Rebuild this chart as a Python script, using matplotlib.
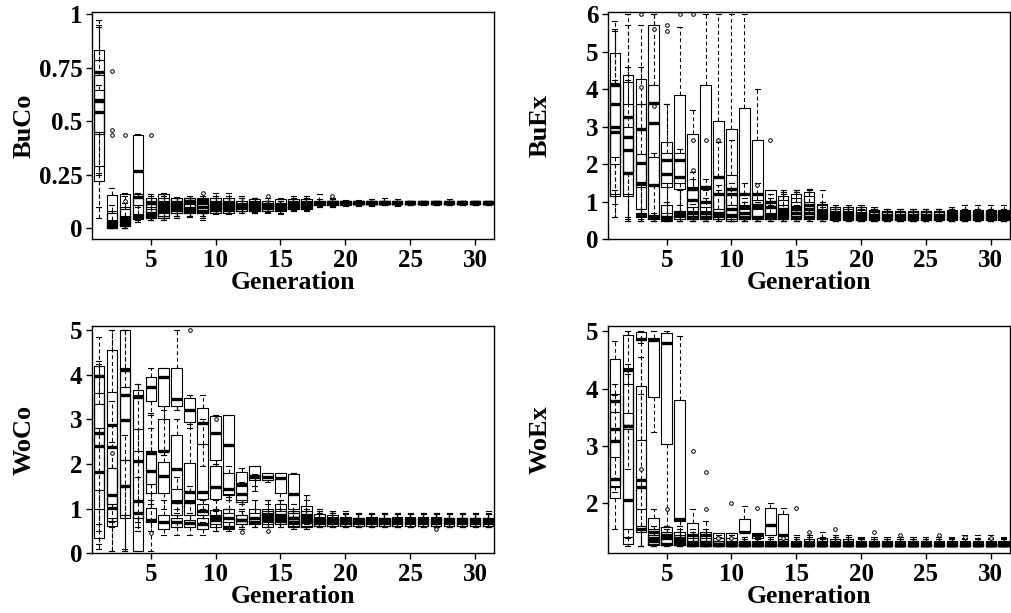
import matplotlib
matplotlib.use("Agg")
import matplotlib.pyplot as plt

generations = list(range(1, 32))

# ---------------- BuCo (4 overlaid runs) ----------------
buco_lo = [
    [0.05,0.00,0.00,0.03,0.04,0.04,0.05,0.055,0.04,0.065,0.065,0.07,0.07,0.075,0.07,0.08,0.085,0.10,0.10,0.105,0.105,0.105,0.11,0.105,0.11,0.11,0.11,0.11,0.11,0.11,0.11],
    [0.26,0.00,0.00,0.04,0.04,0.04,0.06,0.06,0.05,0.07,0.07,0.08,0.075,0.08,0.08,0.085,0.09,0.105,0.105,0.11,0.11,0.11,0.11,0.11,0.11,0.11,0.11,0.11,0.11,0.11,0.11],
    [0.10,0.00,0.00,0.03,0.04,0.05,0.05,0.055,0.05,0.07,0.07,0.07,0.07,0.07,0.065,0.08,0.08,0.10,0.10,0.11,0.11,0.11,0.11,0.11,0.11,0.11,0.11,0.11,0.11,0.11,0.11],
    [0.25,0.00,0.00,0.04,0.05,0.05,0.06,0.06,0.06,0.07,0.07,0.08,0.08,0.08,0.08,0.09,0.09,0.105,0.11,0.11,0.112,0.112,0.112,0.112,0.112,0.112,0.112,0.112,0.112,0.112,0.112],
]
buco_q1 = [
    [0.22,0.00,0.02,0.11,0.05,0.05,0.07,0.07,0.07,0.07,0.07,0.08,0.08,0.09,0.08,0.09,0.09,0.11,0.11,0.11,0.112,0.112,0.112,0.112,0.112,0.112,0.112,0.112,0.112,0.112,0.112],
    [0.29,0.005,0.01,0.05,0.06,0.06,0.08,0.08,0.07,0.08,0.08,0.09,0.09,0.09,0.09,0.10,0.10,0.113,0.113,0.114,0.115,0.115,0.115,0.115,0.115,0.115,0.115,0.115,0.115,0.115,0.115],
    [0.44,0.00,0.02,0.045,0.05,0.06,0.07,0.07,0.07,0.08,0.08,0.08,0.08,0.08,0.08,0.09,0.09,0.11,0.11,0.113,0.113,0.113,0.113,0.113,0.113,0.113,0.113,0.113,0.113,0.113,0.113],
    [0.45,0.01,0.01,0.05,0.10,0.07,0.08,0.08,0.08,0.09,0.09,0.09,0.09,0.09,0.09,0.10,0.10,0.115,0.115,0.116,0.116,0.116,0.116,0.116,0.116,0.116,0.116,0.116,0.116,0.116,0.116],
]
buco_med = [
    [0.73,0.01,0.04,0.27,0.06,0.08,0.10,0.08,0.08,0.10,0.10,0.10,0.10,0.11,0.10,0.11,0.11,0.12,0.12,0.12,0.12,0.12,0.12,0.12,0.12,0.12,0.12,0.12,0.12,0.12,0.12],
    [0.595,0.02,0.03,0.145,0.12,0.12,0.11,0.13,0.12,0.12,0.12,0.11,0.115,0.11,0.11,0.115,0.115,0.12,0.122,0.122,0.121,0.122,0.121,0.121,0.121,0.121,0.121,0.121,0.121,0.121,0.121],
    [0.544,0.01,0.05,0.055,0.07,0.09,0.09,0.09,0.10,0.09,0.09,0.10,0.09,0.10,0.09,0.10,0.10,0.117,0.117,0.118,0.118,0.118,0.118,0.118,0.118,0.118,0.118,0.118,0.118,0.118,0.118],
    [0.60,0.03,0.02,0.06,0.12,0.10,0.12,0.12,0.13,0.11,0.11,0.11,0.10,0.10,0.10,0.11,0.11,0.12,0.12,0.12,0.12,0.12,0.12,0.12,0.12,0.12,0.12,0.12,0.12,0.12,0.12],
]
buco_q3 = [
    [0.83,0.155,0.16,0.435,0.13,0.16,0.14,0.14,0.14,0.14,0.14,0.13,0.135,0.13,0.135,0.135,0.135,0.13,0.13,0.128,0.128,0.13,0.128,0.128,0.127,0.127,0.127,0.127,0.127,0.127,0.127],
    [0.715,0.08,0.10,0.16,0.14,0.14,0.13,0.14,0.13,0.13,0.13,0.12,0.125,0.12,0.12,0.125,0.125,0.127,0.127,0.126,0.125,0.125,0.125,0.125,0.125,0.125,0.125,0.125,0.125,0.125,0.125],
    [0.645,0.04,0.09,0.065,0.09,0.11,0.12,0.10,0.12,0.12,0.12,0.12,0.12,0.12,0.115,0.12,0.12,0.125,0.125,0.124,0.124,0.124,0.124,0.124,0.124,0.124,0.124,0.124,0.124,0.124,0.124],
    [0.785,0.07,0.06,0.14,0.13,0.13,0.13,0.13,0.135,0.13,0.13,0.13,0.13,0.12,0.12,0.13,0.13,0.128,0.128,0.127,0.126,0.126,0.126,0.126,0.126,0.126,0.126,0.126,0.126,0.126,0.126],
]
buco_hi = [
    [0.97,0.19,0.165,0.44,0.16,0.165,0.145,0.15,0.15,0.165,0.165,0.15,0.14,0.14,0.14,0.15,0.15,0.16,0.14,0.132,0.132,0.135,0.14,0.135,0.13,0.13,0.13,0.135,0.13,0.13,0.13],
    [0.95,0.11,0.15,0.165,0.16,0.16,0.14,0.14,0.14,0.15,0.15,0.14,0.14,0.13,0.13,0.14,0.14,0.13,0.13,0.13,0.128,0.128,0.128,0.128,0.128,0.128,0.128,0.128,0.128,0.128,0.128],
    [0.67,0.07,0.12,0.10,0.12,0.14,0.14,0.12,0.15,0.14,0.14,0.14,0.13,0.13,0.13,0.13,0.13,0.135,0.135,0.13,0.13,0.128,0.128,0.128,0.128,0.128,0.128,0.128,0.128,0.128,0.128],
    [0.94,0.08,0.09,0.16,0.15,0.15,0.14,0.14,0.14,0.14,0.14,0.14,0.14,0.13,0.13,0.135,0.135,0.13,0.13,0.13,0.13,0.13,0.13,0.13,0.13,0.13,0.13,0.13,0.13,0.13,0.13],
]
buco_out_gen = [2, 2, 2, 3, 3, 5, 9, 14, 19]
buco_out_val = [0.735, 0.46, 0.435, 0.435, 0.13, 0.435, 0.165, 0.15, 0.15]

# ---------------- BuEx ----------------
buex_lo = [
    [0.6]+[0.5]*30,
    [0.95]+[0.5]*30,
    [1.3,0.6]+[0.5]*29,
    [0.6,0.55,0.55]+[0.5]*28,
]
buex_q1 = [
    [1.15,1.15,0.8,0.55,1.4,1.35,0.85,0.85,0.6,0.5,0.55,0.6,0.6,0.55,0.55,0.55,0.55,0.55,0.55,0.55,0.52,0.52,0.52,0.52,0.52,0.52,0.55,0.55,0.55,0.55,0.55],
    [2.0,1.77,1.4,1.45,0.5,1.5,0.55,0.55,0.55,0.55,0.55,0.55,0.55,0.55,0.6,0.6,0.55,0.55,0.55,0.55,0.55,0.55,0.55,0.55,0.55,0.55,0.55,0.55,0.55,0.55,0.55],
    [2.2,1.8,0.6,0.55,1.5,0.55,0.55,0.6,0.6,0.6,0.6,0.6,0.55,0.55,0.55,0.55,0.55,0.52,0.52,0.52,0.52,0.52,0.52,0.52,0.52,0.52,0.52,0.52,0.52,0.52,0.52],
    [1.2,1.2,1.45,0.6,0.55,0.6,0.55,0.55,0.55,0.55,0.55,0.55,0.55,0.6,0.6,0.6,0.6,0.55,0.55,0.55,0.55,0.55,0.55,0.55,0.55,0.55,0.55,0.55,0.55,0.55,0.55],
]
buex_med = [
    [3.0,2.73,2.93,3.1,1.75,1.65,1.35,1.4,1.65,1.35,1.2,1.2,1.0,0.8,0.85,0.9,0.7,0.7,0.7,0.65,0.65,0.62,0.62,0.62,0.62,0.62,0.65,0.65,0.65,0.65,0.65],
    [3.6,3.25,2.03,3.62,0.55,2.1,1.05,1.0,1.2,1.2,0.85,0.9,0.65,0.65,0.7,0.7,0.65,0.62,0.62,0.6,0.6,0.6,0.6,0.6,0.6,0.6,0.6,0.6,0.6,0.6,0.6],
    [2.85,2.37,0.65,0.6,2.1,0.65,0.6,0.6,0.65,0.8,0.6,0.6,0.6,0.6,0.6,0.6,0.6,0.6,0.6,0.6,0.58,0.58,0.58,0.58,0.58,0.58,0.58,0.58,0.58,0.58,0.58],
    [4.1,1.77,1.5,1.45,0.6,0.7,0.7,0.7,0.7,0.65,0.7,0.85,0.85,0.75,0.8,0.8,0.75,0.65,0.65,0.65,0.65,0.65,0.65,0.65,0.65,0.65,0.68,0.68,0.68,0.68,0.68],
]
buex_q3 = [
    [4.97,4.38,4.26,5.7,2.6,3.85,2.8,4.1,3.15,2.95,3.5,2.65,1.3,1.15,1.2,1.25,0.95,0.85,0.85,0.85,0.78,0.75,0.75,0.75,0.75,0.75,0.78,0.78,0.78,0.78,0.78],
    [4.13,4.2,3.6,4.12,0.9,2.3,1.4,1.35,1.65,1.7,1.2,1.2,0.85,0.9,1.0,1.0,0.8,0.75,0.75,0.72,0.72,0.72,0.72,0.72,0.72,0.72,0.72,0.72,0.72,0.72,0.72],
    [4.1,3.6,0.7,0.65,2.3,0.75,0.75,0.75,0.8,0.9,0.8,0.8,0.7,0.7,0.7,0.7,0.7,0.7,0.7,0.7,0.68,0.68,0.68,0.68,0.68,0.68,0.68,0.68,0.68,0.68,0.68],
    [4.15,3.0,2.27,2.2,0.7,0.75,1.3,1.0,1.2,1.3,0.9,1.05,1.0,1.05,1.1,1.15,0.9,0.8,0.8,0.78,0.75,0.75,0.75,0.75,0.75,0.75,0.75,0.75,0.75,0.75,0.75],
]
buex_hi = [
    [5.8,6.0,5.7,6.0,3.6,5.65,3.45,6.0,6.0,6.0,6.0,4.0,1.3,1.25,1.3,1.35,1.3,0.9,0.9,0.9,0.85,0.8,0.8,0.8,0.8,0.8,0.85,0.9,0.9,0.9,0.9],
    [5.55,5.7,4.6,6.0,1.0,2.4,1.8,1.6,2.6,2.65,1.5,1.5,1.1,1.2,1.25,1.3,1.0,0.85,0.85,0.8,0.8,0.8,0.8,0.8,0.8,0.8,0.8,0.8,0.8,0.8,0.8],
    [4.25,4.6,0.8,0.7,3.6,1.3,0.95,1.1,1.3,1.35,1.0,1.0,0.9,0.9,0.9,0.9,0.85,0.8,0.8,0.8,0.75,0.75,0.75,0.75,0.75,0.75,0.75,0.75,0.75,0.75,0.75],
    [5.6,4.25,3.6,2.3,0.9,0.9,1.6,1.3,1.45,1.5,1.1,1.2,1.2,1.3,1.3,1.35,1.0,0.85,0.85,0.85,0.8,0.8,0.8,0.8,0.8,0.8,0.8,0.8,0.8,0.8,0.8],
]
buex_out_gen = [3, 3, 4, 4, 5, 5, 6, 7, 7, 7, 8, 9, 12, 13]
buex_out_val = [6.0, 4.05, 5.6, 3.55, 5.55, 5.7, 6.0, 6.0, 2.65, 1.85, 2.65, 2.65, 1.45, 2.65]

# ---------------- WoCo ----------------
woco_lo = [
    [0.1,0.05,0.05,0.05,0.05,0.4,0.4,0.4,0.4,0.5,0.5,0.55,0.6,0.6,0.6,0.6,0.6,0.6,0.6,0.6,0.6,0.6,0.6,0.6,0.6,0.6,0.6,0.6,0.6,0.6,0.6],
    [0.2,0.05,0.05,0.5,1.1,1.0,0.6,0.7,0.7,1.0,0.6,1.0,1.5,1.6,1.2,0.9,0.65,0.65,0.65,0.65,0.65,0.65,0.65,0.65,0.65,0.65,0.65,0.65,0.65,0.65,0.65],
    [0.65,0.6,0.8,0.6,3.1,2.3,3.2,2.8,1.95,2.0,1.3,0.6,0.6,0.6,0.65,0.6,0.6,0.6,0.6,0.6,0.6,0.6,0.6,0.6,0.6,0.6,0.6,0.6,0.6,0.6,0.6],
    [0.5,0.7,0.1,0.7,0.5,2.2,0.9,0.9,1.0,0.5,1.2,1.1,1.4,0.6,0.6,0.55,0.55,0.6,0.6,0.6,0.6,0.6,0.6,0.6,0.6,0.6,0.6,0.6,0.6,0.6,0.6],
]
woco_q1 = [
    [0.34,0.62,0.8,0.05,0.7,0.55,0.6,0.6,0.55,0.6,0.55,0.65,0.65,0.6,0.65,0.6,0.6,0.62,0.62,0.62,0.62,0.62,0.62,0.62,0.62,0.62,0.62,0.62,0.62,0.62,0.62],
    [1.42,0.72,2.1,0.8,1.35,1.35,0.85,0.85,0.85,1.22,0.7,1.15,1.7,1.65,1.35,1.0,0.7,0.68,0.68,0.68,0.68,0.68,0.68,0.68,0.68,0.68,0.68,0.68,0.68,0.68,0.68],
    [1.0,0.8,1.52,2.78,3.4,3.3,3.3,2.95,2.45,2.08,1.32,0.65,0.65,0.65,0.7,0.65,0.62,0.65,0.65,0.65,0.65,0.65,0.65,0.65,0.65,0.65,0.65,0.65,0.65,0.65,0.65],
    [2.8,1.1,0.85,0.8,1.55,2.28,1.2,1.2,1.22,0.65,1.3,1.2,1.65,0.7,0.7,0.62,0.6,0.62,0.62,0.62,0.62,0.62,0.62,0.62,0.62,0.62,0.62,0.62,0.62,0.62,0.62],
]
woco_med = [
    [2.41,2.88,2.98,2.07,0.75,0.7,0.7,0.68,0.65,0.82,0.6,0.75,0.7,0.75,0.8,0.78,0.8,0.72,0.72,0.7,0.7,0.7,0.7,0.72,0.72,0.72,0.72,0.72,0.7,0.7,0.72],
    [2.7,2.38,4.1,1.17,1.85,1.72,1.15,1.15,0.95,1.48,0.8,1.55,1.72,1.7,1.68,1.32,0.85,0.75,0.75,0.75,0.74,0.74,0.74,0.74,0.75,0.75,0.75,0.74,0.74,0.74,0.74],
    [1.81,1.02,3.55,3.5,3.72,3.95,3.45,3.22,2.92,2.7,2.42,0.75,0.8,0.85,0.85,0.78,0.75,0.7,0.7,0.7,0.7,0.7,0.7,0.7,0.7,0.7,0.7,0.7,0.7,0.7,0.7],
    [3.97,1.3,1.5,0.9,2.25,2.3,1.88,1.38,1.38,0.75,1.45,1.32,1.7,0.8,0.75,0.7,0.7,0.72,0.72,0.72,0.72,0.72,0.72,0.72,0.72,0.72,0.72,0.72,0.72,0.72,0.72],
]
woco_q3 = [
    [4.19,4.55,5.0,3.65,1.02,0.85,0.8,0.75,0.8,0.98,1.0,0.85,1.0,1.0,1.1,0.95,1.05,0.88,0.85,0.82,0.8,0.82,0.8,0.82,0.82,0.82,0.82,0.8,0.8,0.8,0.8],
    [3.6,3.62,4.15,2.28,2.28,2.05,1.45,1.38,1.1,1.95,0.9,1.82,1.95,1.8,1.8,1.78,0.95,0.82,0.82,0.8,0.8,0.8,0.8,0.8,0.8,0.8,0.8,0.8,0.8,0.8,0.8],
    [3.34,1.9,3.72,3.55,3.95,4.15,4.15,3.48,3.25,3.08,3.1,0.85,0.9,0.95,0.95,0.9,0.8,0.78,0.78,0.78,0.78,0.78,0.78,0.78,0.78,0.78,0.78,0.78,0.78,0.78,0.78],
    [4.0,1.9,2.1,1.17,2.28,3.0,2.65,2.02,2.45,0.85,1.8,1.5,1.75,0.9,1.0,0.8,0.85,0.8,0.8,0.8,0.8,0.8,0.8,0.8,0.8,0.8,0.8,0.8,0.8,0.8,0.8],
]
woco_hi = [
    [4.85,5.0,5.0,3.8,1.2,1.2,1.0,0.9,1.0,1.2,1.25,0.95,1.2,1.2,1.2,1.1,1.3,1.0,0.95,0.95,0.9,0.9,0.9,0.9,0.9,0.9,0.9,0.9,0.9,0.9,0.95],
    [4.25,5.0,5.0,3.5,3.15,2.2,1.7,1.5,1.2,2.0,1.0,1.92,1.95,1.8,1.8,1.8,1.2,0.95,0.9,0.9,0.88,0.88,0.88,0.88,0.88,0.88,0.88,0.88,0.88,0.88,0.88],
    [4.2,3.4,5.0,3.8,4.15,4.15,5.0,3.55,3.55,3.1,3.1,0.95,1.2,1.2,1.1,1.0,0.95,0.9,0.9,0.88,0.88,0.88,0.88,0.88,0.88,0.88,0.88,0.88,0.88,0.88,0.88],
    [4.3,2.5,2.65,1.7,2.8,3.2,3.0,2.9,3.0,0.95,1.95,1.6,1.78,1.1,1.2,0.9,1.0,0.9,0.9,0.9,0.9,0.9,0.9,0.9,0.9,0.9,0.9,0.9,0.9,0.9,0.9],
]
woco_out_gen = [2, 5, 8, 10, 12, 14, 27]
woco_out_val = [2.25, 0.45, 5.0, 3.0, 0.48, 0.5, 0.55]

# ---------------- WoEx ----------------
woex_lo = [
    [1.55,1.25,1.25,3.25,1.6,1.25,1.25,1.25,1.25,1.25,1.5,1.4,1.45,1.3]+[1.25]*17,
    [2.3,1.3]+[1.25]*29,
    [2.4,1.4,4.8]+[1.25]*28,
    [2.2,2.6]+[1.25]*29,
]
woex_q1 = [
    [2.1,1.3,1.55,3.85,3.03,1.7,1.25,1.25,1.25,1.25,1.5,1.4,1.45,1.3]+[1.25]*17,
    [2.28,1.42,1.9,1.3,1.28,1.3,1.27,1.27,1.27,1.27]+[1.25]*21,
    [2.8,1.55,4.85,1.3,1.3,1.28,1.27]+[1.26]*24,
    [2.3,3.3,1.5,1.28,1.27,1.27]+[1.26]*25,
]
woex_med = [
    [3.08,2.05,2.28,4.85,4.8,1.72,1.45,1.45,1.3,1.3,1.5,1.45,1.63,1.45,1.28,1.3,1.3,1.3,1.3]+[1.28]*12,
    [3.3,3.35,2.4,1.4,1.45,1.4,1.3,1.3,1.27,1.27,1.28,1.28,1.28,1.3]+[1.27]*17,
    [3.78,4.33,4.87,1.5,1.4,1.3,1.32,1.32,1.3,1.3]+[1.27]*21,
    [2.42,3.35,1.55,1.35,1.3,1.35,1.28,1.28,1.3,1.28,1.3,1.3,1.3,1.32,1.3,1.3,1.3,1.3,1.3,1.3,1.3,1.3,1.3,1.3,1.3,1.3,1.3,1.3,1.3,1.3,1.3],
]
woex_q3 = [
    [4.52,4.93,4.05,4.88,4.97,3.8,1.65,1.5,1.48,1.48,1.72,1.48,1.92,1.82,1.35,1.38,1.4,1.38,1.38,1.35]+[1.32]*11,
    [3.6,3.58,3.1,1.75,1.58,1.5,1.4,1.4,1.35,1.35]+[1.3]*21,
    [3.9,4.35,4.98,1.55,1.5,1.35,1.45,1.45,1.4,1.4]+[1.32]*21,
    [3.1,4.08,1.6,1.45,1.4,1.45,1.33,1.35,1.35,1.33,1.35,1.35,1.35,1.38,1.35,1.35,1.35,1.35,1.35,1.35,1.35,1.35,1.35,1.35,1.35,1.35,1.35,1.35,1.35,1.35,1.35],
]
woex_hi = [
    [4.82,5.0,5.0,5.0,5.0,4.92,1.9,1.7,1.48,1.48,1.95,1.48,2.0,1.92,1.45,1.45,1.5,1.45,1.45,1.4,1.38,1.38,1.38,1.38,1.38,1.38,1.4,1.4,1.4,1.4,1.4],
    [3.88,4.43,4.55,1.9,1.6,1.6,1.5,1.55,1.4,1.4]+[1.35]*21,
    [4.08,5.0,5.0,1.6,1.55,1.45,1.55,1.5,1.45,1.45]+[1.38]*21,
    [3.6,4.25,3.9,1.55,1.5,1.55,1.4,1.45,1.42,1.4,1.42,1.42,1.42,1.45,1.42,1.42,1.42,1.42,1.42,1.42,1.42,1.42,1.42,1.42,1.42,1.42,1.42,1.45,1.45,1.45,1.42],
]
woex_out_gen = [3, 5, 7, 8, 8, 9, 10, 10, 12, 14, 15, 16, 18, 21, 23, 26, 28, 30]
woex_out_val = [2.6, 1.9, 2.92, 2.55, 1.9, 1.4, 1.4, 2.0, 1.92, 1.4, 1.92, 1.5, 1.55, 1.5, 1.45, 1.45, 1.42, 1.4]

ylabels = ["BuCo", "BuEx", "WoCo", "WoEx"]
yticks = [[0, 0.25, 0.5, 0.75, 1], [0, 1, 2, 3, 4, 5, 6], [0, 1, 2, 3, 4, 5], [2, 3, 4, 5]]
yticklabels = [["0", "0.25", "0.5", "0.75", "1"], ["0", "1", "2", "3", "4", "5", "6"],
               ["0", "1", "2", "3", "4", "5"], ["2", "3", "4", "5"]]
xticks = [5, 10, 15, 20, 25, 30]

panels = [
    (buco_lo, buco_q1, buco_med, buco_q3, buco_hi, buco_out_gen, buco_out_val),
    (buex_lo, buex_q1, buex_med, buex_q3, buex_hi, buex_out_gen, buex_out_val),
    (woco_lo, woco_q1, woco_med, woco_q3, woco_hi, woco_out_gen, woco_out_val),
    (woex_lo, woex_q1, woex_med, woex_q3, woex_hi, woex_out_gen, woex_out_val),
]
ylims = [(-0.051, 1.011), (0.0, 6.06), (0.0, 5.09), (1.13, 5.09)]

W, H = 1011, 613
fig = plt.figure(figsize=(W / 100, H / 100), dpi=100)
SERIF = ["Liberation Serif", "DejaVu Serif"]

# axes rectangles in pixels: left, right, top, bottom
rects = [(92.3, 494.0, 11.7, 239.3), (608.3, 1009.5, 11.7, 239.3),
         (92.3, 494.0, 326.0, 553.3), (608.3, 1009.5, 326.0, 553.3)]

for i, (lo, q1, med, q3, hi, og, ov) in enumerate(panels):
    l, r, t, b = rects[i]
    ax = fig.add_axes([l / W, 1 - b / H, (r - l) / W, (b - t) / H])
    for k in range(len(lo)):
        stats = []
        for g in range(len(generations)):
            stats.append(dict(med=med[k][g], q1=q1[k][g], q3=q3[k][g],
                              whislo=lo[k][g], whishi=hi[k][g], fliers=[]))
        ax.bxp(stats, positions=generations, widths=0.8, capwidths=0.4,
               showfliers=False, manage_ticks=False,
               boxprops=dict(color="black", linewidth=0.8),
               whiskerprops=dict(color="black", linewidth=0.8, linestyle=(0, (3.5, 2.5))),
               capprops=dict(color="black", linewidth=0.8),
               medianprops=dict(color="black", linewidth=2.4, solid_capstyle="butt"))
    ax.plot(og, ov, linestyle="none", marker="o", markersize=2.6,
            markerfacecolor="white", markeredgecolor="black", markeredgewidth=0.7)
    ax.set_xlim(0.5, 31.45)
    ax.set_ylim(*ylims[i])
    ax.set_xticks(xticks)
    ax.set_xticklabels([str(x) for x in xticks])
    ax.set_yticks(yticks[i])
    ax.set_yticklabels(yticklabels[i])
    ax.tick_params(axis="both", direction="out", length=4, width=1, color="black",
                   labelsize=18, pad=3)
    for lab in ax.get_xticklabels() + ax.get_yticklabels():
        lab.set_family(SERIF)
        lab.set_fontweight("bold")
    for sp in ax.spines.values():
        sp.set_linewidth(1.0)
        sp.set_color("black")
    cx = (l + r) / 2
    cy = (t + b) / 2
    fig.text(cx / W, 1 - (b + 43) / H, "Generation", ha="center", va="center",
             fontsize=18.5, fontweight="bold", family=SERIF)
    fig.text((l - 68) / W, 1 - cy / H, ylabels[i], ha="center", va="center",
             rotation=90, fontsize=19, fontweight="bold", family=SERIF)

fig.savefig("out.png", dpi=100)
